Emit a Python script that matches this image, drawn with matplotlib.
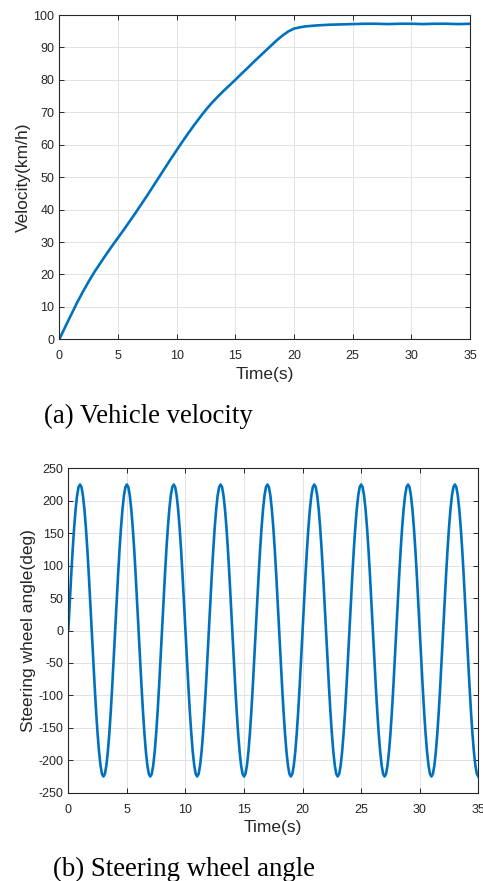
import numpy as np
import matplotlib
matplotlib.use('Agg')
import matplotlib.pyplot as plt

# ------------------------------------------------------------
# Vehicle velocity (km/h), sampled every 0.5 s
# ------------------------------------------------------------
vel_time = [0.0, 0.5, 1.0, 1.5, 2.0, 2.5, 3.0, 3.5, 4.0, 4.5,
            5.0, 5.5, 6.0, 6.5, 7.0, 7.5, 8.0, 8.5, 9.0, 9.5,
            10.0, 10.5, 11.0, 11.5, 12.0, 12.5, 13.0, 13.5, 14.0, 14.5,
            15.0, 15.5, 16.0, 16.5, 17.0, 17.5, 18.0, 18.5, 19.0, 19.5,
            20.0, 20.5, 21.0, 22.0, 23.0, 24.0, 25.0, 26.0, 27.0, 28.0,
            29.0, 30.0, 31.0, 32.0, 33.0, 34.0, 35.0]
velocity = [0.0, 3.8, 7.5, 11.2, 14.6, 17.8, 20.8, 23.5, 26.2, 28.8,
            31.3, 33.8, 36.4, 39.0, 41.7, 44.4, 47.2, 50.0, 52.8, 55.6,
            58.3, 61.0, 63.6, 66.1, 68.5, 70.8, 72.9, 74.8, 76.6, 78.3,
            80.0, 81.8, 83.5, 85.3, 87.0, 88.7, 90.4, 92.1, 93.6, 94.9,
            95.8, 96.2, 96.5, 96.8, 97.0, 97.1, 97.2, 97.3, 97.3, 97.2,
            97.3, 97.3, 97.2, 97.3, 97.3, 97.2, 97.3]

# ------------------------------------------------------------
# Steering wheel angle (deg), sampled every 0.125 s (two rows = 4 s)
# ------------------------------------------------------------
steer_time = [i * 0.125 for i in range(281)]
steer_angle = [
    0, 44, 86, 125, 159, 187, 208, 221, 225, 221, 208, 187, 159, 125, 86, 44,
    0, -44, -86, -125, -159, -187, -208, -221, -225, -221, -208, -187, -159, -125, -86, -44,
    0, 44, 86, 125, 159, 187, 208, 221, 225, 221, 208, 187, 159, 125, 86, 44,
    0, -44, -86, -125, -159, -187, -208, -221, -225, -221, -208, -187, -159, -125, -86, -44,
    0, 44, 86, 125, 159, 187, 208, 221, 225, 221, 208, 187, 159, 125, 86, 44,
    0, -44, -86, -125, -159, -187, -208, -221, -225, -221, -208, -187, -159, -125, -86, -44,
    0, 44, 86, 125, 159, 187, 208, 221, 225, 221, 208, 187, 159, 125, 86, 44,
    0, -44, -86, -125, -159, -187, -208, -221, -225, -221, -208, -187, -159, -125, -86, -44,
    0, 44, 86, 125, 159, 187, 208, 221, 225, 221, 208, 187, 159, 125, 86, 44,
    0, -44, -86, -125, -159, -187, -208, -221, -225, -221, -208, -187, -159, -125, -86, -44,
    0, 44, 86, 125, 159, 187, 208, 221, 225, 221, 208, 187, 159, 125, 86, 44,
    0, -44, -86, -125, -159, -187, -208, -221, -225, -221, -208, -187, -159, -125, -86, -44,
    0, 44, 86, 125, 159, 187, 208, 221, 225, 221, 208, 187, 159, 125, 86, 44,
    0, -44, -86, -125, -159, -187, -208, -221, -225, -221, -208, -187, -159, -125, -86, -44,
    0, 44, 86, 125, 159, 187, 208, 221, 225, 221, 208, 187, 159, 125, 86, 44,
    0, -44, -86, -125, -159, -187, -208, -221, -225, -221, -208, -187, -159, -125, -86, -44,
    0, 44, 86, 125, 159, 187, 208, 221, 225, 221, 208, 187, 159, 125, 86, 44,
    0, -44, -86, -125, -159, -187, -208, -221, -225,
]

time_ticks = [0, 5, 10, 15, 20, 25, 30, 35]
vel_ticks = [0, 10, 20, 30, 40, 50, 60, 70, 80, 90, 100]
steer_ticks = [-250, -200, -150, -100, -50, 0, 50, 100, 150, 200, 250]

LINE = '#0072BD'
INK = '#262626'

plt.rcParams['font.family'] = ['Liberation Sans', 'DejaVu Sans']
plt.rcParams['axes.unicode_minus'] = False

W, H = 483, 881
fig = plt.figure(figsize=(W / 100, H / 100), dpi=100)
fig.patch.set_facecolor('white')


def px_axes(left, top, right, bottom):
    return fig.add_axes([left / W, 1 - bottom / H, (right - left) / W, (bottom - top) / H])


def style(ax, xticks, yticks, xlim, ylim, ylabel):
    ax.set_xlim(*xlim)
    ax.set_ylim(*ylim)
    ax.set_xticks(xticks)
    ax.set_yticks(yticks)
    ax.grid(True, color='#e3e3e3', linewidth=0.7)
    ax.set_axisbelow(True)
    ax.tick_params(direction='in', top=True, right=True, length=3.5,
                   width=0.7, colors=INK, labelsize=9)
    ax.tick_params(axis='x', pad=8)
    ax.tick_params(axis='y', pad=3.5)
    for s in ax.spines.values():
        s.set_color(INK)
        s.set_linewidth(0.8)
    ax.set_xlabel('Time(s)', fontsize=12.5, color=INK, labelpad=3)
    ax.set_ylabel(ylabel, fontsize=12.5, color=INK, labelpad=2)


# (a) vehicle velocity
ax1 = px_axes(59.3, 15, 470, 339.3)
ax1.plot(vel_time, velocity, color=LINE, linewidth=1.9)
style(ax1, time_ticks, vel_ticks, (0, 35), (0, 100), 'Velocity(km/h)')

# (b) steering wheel angle
ax2 = px_axes(68.3, 468.3, 478.3, 792.7)
ax2.plot(steer_time, steer_angle, color=LINE, linewidth=1.9)
style(ax2, time_ticks, steer_ticks, (0, 35), (-250, 250), 'Steering wheel angle(deg)')

fig.text(44 / W, 1 - 416 / H, '(a) Vehicle velocity', family='Liberation Serif',
         fontsize=19.3, ha='left', va='center', color='black')
fig.text(53 / W, 1 - 869 / H, '(b) Steering wheel angle', family='Liberation Serif',
         fontsize=19.3, ha='left', va='center', color='black')

fig.savefig('out.png', dpi=100, facecolor='white')
